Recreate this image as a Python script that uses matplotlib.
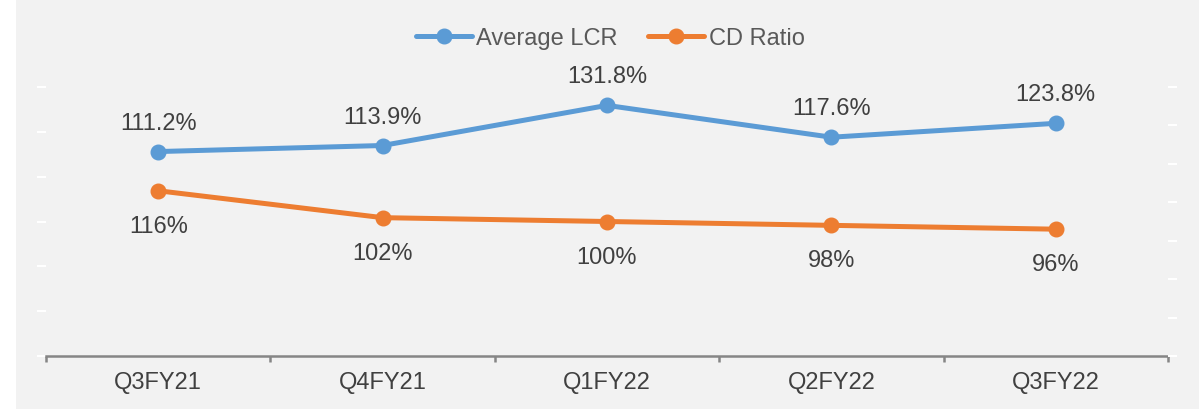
import numpy as np
import matplotlib.pyplot as plt
from matplotlib.patches import Rectangle

plt.rcParams['font.family'] = ['Liberation Sans', 'DejaVu Sans']

# Data
quarters = ['Q3FY21', 'Q4FY21', 'Q1FY22', 'Q2FY22', 'Q3FY22']
avg_lcr = [111.2, 113.9, 131.8, 117.6, 123.8]
cd_ratio = [116, 102, 100, 98, 96]
lcr_labels = ['111.2%', '113.9%', '131.8%', '117.6%', '123.8%']
cd_labels = ['116%', '102%', '100%', '98%', '96%']

blue = '#5B9BD5'
orange = '#ED7D31'
txt = '#404040'
fs = 17

fig = plt.figure(figsize=(11.99, 4.10), dpi=100)
fig.patch.set_facecolor('white')
# gray chart area background
fig.patches.append(Rectangle((16 / 1199, 0), 1, 409 / 410, transform=fig.transFigure,
                             facecolor='#f2f2f2', edgecolor='none', zorder=-10))

ax1 = fig.add_axes([46 / 1199, 53 / 410, 1122 / 1199, 269 / 410])
ax2 = ax1.twinx()
for a in (ax1, ax2):
    a.set_facecolor('none')
    for s in a.spines.values():
        s.set_visible(False)

x = np.arange(len(quarters))

ax1.plot(x, avg_lcr, color=blue, lw=3.6, marker='o', ms=10.5, label='Average LCR',
         solid_capstyle='round', zorder=3)
ax2.plot(x, cd_ratio, color=orange, lw=3.6, marker='o', ms=10.5, label='CD Ratio',
         solid_capstyle='round', zorder=3)

ax1.set_xlim(-0.5, len(quarters) - 0.5)
ax1.set_ylim(20, 140)
ax2.set_ylim(30, 170)
ax1.set_yticks(np.arange(20, 141, 20))
ax2.set_yticks(np.arange(30, 171, 20))
ax1.tick_params(axis='y', colors='white', length=6.5, width=1.5, labelleft=False)
ax2.tick_params(axis='y', colors='white', length=6.5, width=1.5, labelright=False)

# x axis line
ax1.spines['bottom'].set_visible(True)
ax1.spines['bottom'].set_color('#868686')
ax1.spines['bottom'].set_linewidth(1.8)
ax1.set_xticks(x)
ax1.set_xticklabels(quarters, fontsize=fs, color='#404040')
ax1.tick_params(axis='x', which='major', length=0, pad=11)
ax1.set_xticks(np.arange(-0.5, len(quarters), 1), minor=True)
ax1.tick_params(axis='x', which='minor', length=4, width=1.8, color='#868686', direction='out')

for xi, v, lab in zip(x, avg_lcr, lcr_labels):
    ax1.annotate(lab, (xi, v), xytext=(0, 29), textcoords='offset pixels',
                 ha='center', va='center', fontsize=fs, color=txt)
for xi, v, lab in zip(x, cd_ratio, cd_labels):
    ax2.annotate(lab, (xi, v), xytext=(0, -35), textcoords='offset pixels',
                 ha='center', va='center', fontsize=fs, color=txt)

h1, l1 = ax1.get_legend_handles_labels()
h2, l2 = ax2.get_legend_handles_labels()
leg = fig.legend(h1 + h2, l1 + l2, loc='center', bbox_to_anchor=(0.509, 0.905), ncol=2,
                 frameon=False, fontsize=fs, handlelength=2.37, handletextpad=0.2,
                 columnspacing=1.3, borderpad=0)
for t in leg.get_texts():
    t.set_color('#595959')

fig.savefig('out.png', dpi=100, facecolor=fig.get_facecolor())
